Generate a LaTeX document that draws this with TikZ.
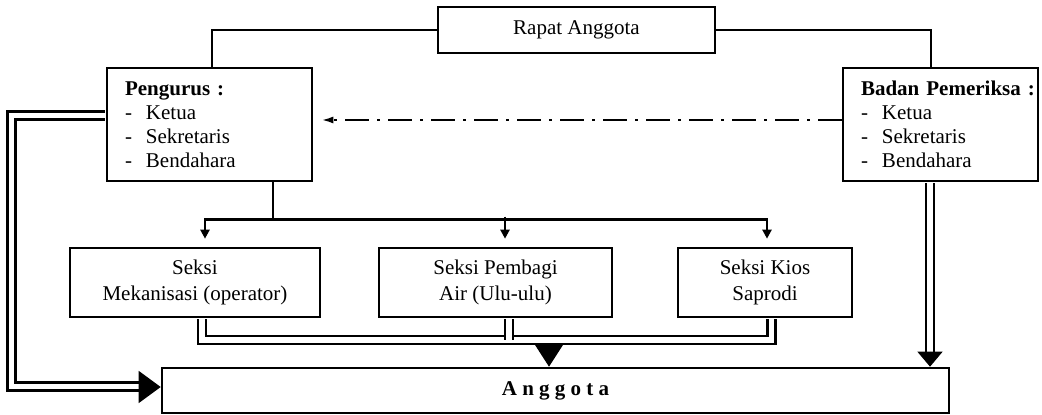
\documentclass[tikz,border=0pt]{standalone}
\usepackage{fontspec}
\setmainfont{Liberation Serif}
\usetikzlibrary{calc,arrows.meta}
\tikzset{
  box/.style={draw, line width=1.3pt, inner sep=0pt, align=center, font=\fontsize{10.5}{13}\selectfont},
  listbox/.style={draw, line width=1.3pt, inner xsep=9pt, inner ysep=0pt, align=left, minimum height=56.5pt, font=\fontsize{10.5}{12}\selectfont},
  link/.style={line width=1.3pt},
  dbl/.style={double, double distance=2.7pt, line width=1.3pt},
  tiparrow/.style={line width=1.3pt, -{Triangle[length=4.5pt,width=4.5pt]}},
  dashlink/.style={line width=1.1pt, dash pattern=on 12pt off 4pt on 1.5pt off 4pt, -{Latex[length=6pt,width=3.5pt]}},
  head/.style 2 args={line width=0.6pt, -{Triangle[length=#1,width=#2]}}
}
\newcommand{\butir}[1]{\makebox[1em][l]{-}#1}
\begin{document}
\begin{tikzpicture}[x=0.5pt,y=-0.5pt]
	\useasboundingbox (0,0) rectangle (1042,415);
	% kotak-kotak
	\node[box, minimum width=138.5pt, minimum height=23pt] (rapat) at (576.5,30) {Rapat Anggota};
	\node[listbox, text width=84.5pt] (pengurus) at (209.5,124.5) {\textbf{Pengurus :}\\ \butir{Ketua}\\ \butir{Sekretaris}\\ \butir{Bendahara}};
	\node[listbox, text width=79.5pt] (badan) at (940.5,124.5) {\mbox{\textbf{Badan Pemeriksa :}}\\ \butir{Ketua}\\ \butir{Sekretaris}\\ \butir{Bendahara}};
	\node[box, minimum width=125pt, minimum height=34.5pt] (mekanisasi) at (195,282.5) {Seksi\\ Mekanisasi (operator)};
	\node[box, minimum width=116.5pt, minimum height=34.5pt] (pembagi) at (495.5,282.5) {Seksi Pembagi\\ Air (Ulu-ulu)};
	\node[box, minimum width=87pt, minimum height=34.5pt] (kios) at (765,282.5) {Seksi Kios\\ Saprodi};
	\node[box, minimum width=393.5pt, minimum height=22.5pt] (anggota) at (555.5,390.5) {\textbf{A n g g o t a}};

	% garis dari rapat anggota
	\draw[link] (rapat.west) -| ($(pengurus.north)+(2.5,0)$);
	\draw[link] (rapat.east) -| ($(badan.north)+(-9.5,0)$);
	\draw[dashlink] ($(badan.west)+(0,-4.5)$) -- ($(pengurus.east)+(8,-4.5)$);

	% pengurus ke seksi
	\coordinate (bus) at ($(pengurus.south)+(63.5,37)$);
	\draw[link] ($(pengurus.south)+(63.5,0)$) -- (bus);
	\draw[tiparrow] (bus) -| ($(mekanisasi.north)+(10,-8)$);
	\draw[tiparrow] (bus) -| ($(kios.north)+(2,-8)$);
	\draw[tiparrow] ($(pembagi.north)+(9.5,-30)$) -- ($(pembagi.north)+(9.5,-8)$);

	% seksi ke anggota
	\coordinate (kumpul) at ($(anggota.north)+(-6.5,-26.5)$);
	\draw[dbl] ($(mekanisasi.south)+(7,1)$) |- (kumpul) -| ($(kios.south)+(6.5,1)$);
	\draw[dbl] ($(pembagi.south)+(13.5,1)$) -- ($(pembagi.south)+(13.5,21.5)$);
	\draw[head={11pt}{14pt}] ($(anggota.north)+(-6.5,-22)$) -- ($(anggota.north)+(-6.5,0)$);

	% pengurus ke anggota
	\draw[dbl] ($(pengurus.west)+(-1,-9)$) -| ($(anggota.west)+(-149.5,-4)$) -- ($(anggota.west)+(-22,-4)$);
	\draw[head={11pt}{16pt}] ($(anggota.west)+(-22,-3.5)$) -- ($(anggota.west)+(0,-3.5)$);

	% badan pemeriksa ke anggota
	\draw[dbl] ($(badan.south)+(-10.5,1)$) -- ($(badan.south |- anggota.north)+(-10.5,-15)$);
	\draw[head={7.5pt}{12.5pt}] ($(badan.south |- anggota.north)+(-10.5,-15)$) -- ($(badan.south |- anggota.north)+(-10.5,0)$);
\end{tikzpicture}
\end{document}
